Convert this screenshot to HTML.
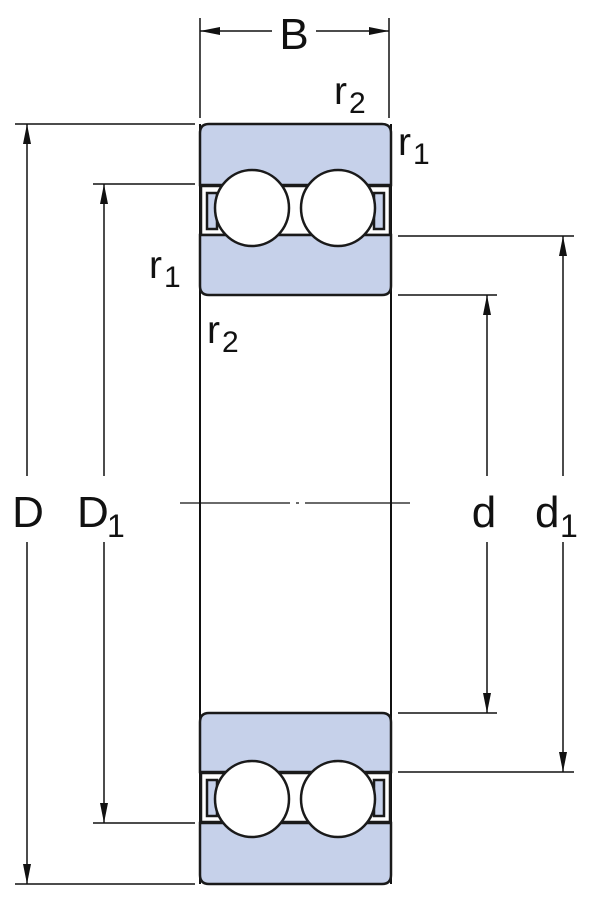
<!DOCTYPE html>
<html><head><meta charset="utf-8"><style>html,body{margin:0;padding:0;background:#fff}svg{display:block}</style></head>
<body>
<svg width="600" height="905" viewBox="0 0 600 905" xmlns="http://www.w3.org/2000/svg">
<defs>
<marker id="ar" viewBox="0 0 20 8" refX="20" refY="4" markerWidth="20" markerHeight="8" markerUnits="userSpaceOnUse" orient="auto-start-reverse"><path d="M0,0 L20,4 L0,8 Z" fill="#111"/></marker>
</defs>
<g stroke="#111" stroke-width="1.5" fill="none">
<line x1="200" y1="18" x2="200" y2="118"/>
<line x1="389" y1="18" x2="389" y2="118"/>
<line x1="15" y1="124" x2="195" y2="124"/>
<line x1="15" y1="884" x2="195" y2="884"/>
<line x1="93" y1="184" x2="195" y2="184"/>
<line x1="93" y1="823" x2="195" y2="823"/>
<line x1="398" y1="236" x2="574" y2="236"/>
<line x1="398" y1="772" x2="574" y2="772"/>
<line x1="398" y1="295" x2="497" y2="295"/>
<line x1="398" y1="713" x2="497" y2="713"/>
<line x1="200" y1="31" x2="272" y2="31" marker-start="url(#ar)"/>
<line x1="316" y1="31" x2="389" y2="31" marker-end="url(#ar)"/>
<line x1="27" y1="124" x2="27" y2="476" marker-start="url(#ar)"/>
<line x1="27" y1="542" x2="27" y2="884" marker-end="url(#ar)"/>
<line x1="104" y1="184" x2="104" y2="476" marker-start="url(#ar)"/>
<line x1="104" y1="542" x2="104" y2="823" marker-end="url(#ar)"/>
<line x1="487" y1="295" x2="487" y2="476" marker-start="url(#ar)"/>
<line x1="487" y1="542" x2="487" y2="713" marker-end="url(#ar)"/>
<line x1="563" y1="236" x2="563" y2="476" marker-start="url(#ar)"/>
<line x1="563" y1="542" x2="563" y2="772" marker-end="url(#ar)"/>
<line x1="180" y1="503" x2="410" y2="503" stroke-width="1.2" stroke-dasharray="110,6,3,6"/>
<line x1="200" y1="124" x2="200" y2="884" stroke-width="2"/>
<line x1="391" y1="124" x2="391" y2="884" stroke-width="2"/>
</g>
<g stroke="#1a1a1a" stroke-width="2.5">
<rect x="201" y="186" width="189" height="49" fill="#fff"/>
<rect x="207" y="193" width="10" height="36" fill="#c6d1ea"/>
<rect x="374" y="193" width="10" height="36" fill="#c6d1ea"/>
<path d="M200,185 V133 Q200,124 209,124 H382 Q391,124 391,133 V185 Z" fill="#c6d1ea"/>
<path d="M200,235 H391 V286 Q391,295 382,295 H209 Q200,295 200,286 Z" fill="#c6d1ea"/>
<ellipse cx="252" cy="208" rx="37" ry="38" fill="#fff"/>
<ellipse cx="338" cy="208" rx="37" ry="38" fill="#fff"/>
<rect x="201" y="773" width="189" height="49" fill="#fff"/>
<rect x="207" y="780" width="10" height="36" fill="#c6d1ea"/>
<rect x="374" y="780" width="10" height="36" fill="#c6d1ea"/>
<path d="M200,772 V722 Q200,713 209,713 H382 Q391,713 391,722 V772 Z" fill="#c6d1ea"/>
<path d="M200,823 H391 V875 Q391,884 382,884 H209 Q200,884 200,875 Z" fill="#c6d1ea"/>
<ellipse cx="252" cy="799" rx="37" ry="38" fill="#fff"/>
<ellipse cx="338" cy="799" rx="37" ry="38" fill="#fff"/>
</g>
<g font-family="Liberation Sans, sans-serif" fill="#111">
<text x="294" y="49" font-size="44" text-anchor="middle">B</text>
<text x="334" y="104" font-size="39">r</text><text x="349" y="113" font-size="30">2</text>
<text x="398" y="155" font-size="39">r</text><text x="413" y="164" font-size="30">1</text>
<text x="149" y="278" font-size="39">r</text><text x="164" y="287" font-size="30">1</text>
<text x="207" y="343" font-size="39">r</text><text x="222" y="352" font-size="30">2</text>
<text x="28" y="527" font-size="44" text-anchor="middle">D</text>
<text x="77" y="527" font-size="44">D</text><text x="107" y="537" font-size="32">1</text>
<text x="484" y="527" font-size="44" text-anchor="middle">d</text>
<text x="535" y="527" font-size="44">d</text><text x="560" y="537" font-size="32">1</text>
</g>
</svg>
</body></html>
